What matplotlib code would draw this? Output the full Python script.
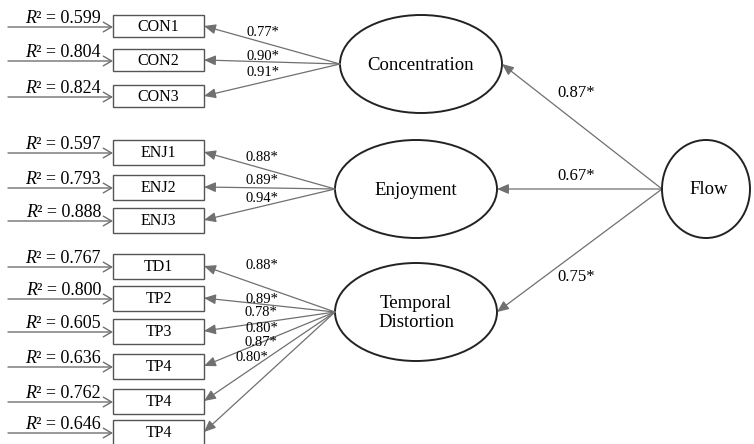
import matplotlib.pyplot as plt
from matplotlib.patches import Ellipse, Rectangle, FancyArrowPatch

plt.rcParams['font.family'] = ['Liberation Serif', 'DejaVu Serif']

# model values
constructs = ['Concentration', 'Enjoyment', 'Temporal\nDistortion']
path_coefs = [0.87, 0.67, 0.75]
indicators = [['CON1', 'CON2', 'CON3'],
              ['ENJ1', 'ENJ2', 'ENJ3'],
              ['TD1', 'TP2', 'TP3', 'TP4', 'TP4', 'TP4']]
loadings = [[0.77, 0.90, 0.91],
            [0.88, 0.89, 0.94],
            [0.88, 0.89, 0.78, 0.80, 0.87, 0.80]]
r_squared = [[0.599, 0.804, 0.824],
             [0.597, 0.793, 0.888],
             [0.767, 0.800, 0.605, 0.636, 0.762, 0.646]]

# layout (pixels, y down)
box_y = [[26, 60, 96], [152, 187, 220], [266, 298, 331, 366, 401, 432]]
box_h = [22, 25, 25]
box_x0, box_x1 = 113, 204
ell_c = [(421, 64), (416, 189), (416, 312)]
ell_w, ell_h = 162, 98
flow_c = (706, 189)
flow_w, flow_h = 88, 98
load_lbl = [[(263, 33), (263, 57), (263, 73)],
            [(262, 157), (262, 180), (262, 198)],
            [(262, 265), (262, 299), (261, 312), (262, 328), (261, 342), (252, 357)]]
path_lbl = [(576, 93), (576, 176), (576, 277)]

line_col = '#707070'

fig = plt.figure(figsize=(7.54, 4.44), dpi=100)
ax = fig.add_axes([0, 0, 1, 1])
ax.set_xlim(0, 754)
ax.set_ylim(444, 0)
ax.axis('off')


def arrow(p0, p1, style, lw=1.0):
    ax.add_patch(FancyArrowPatch(p0, p1, arrowstyle=style, mutation_scale=10,
                                 shrinkA=0, shrinkB=0, color=line_col, lw=lw))


for g in range(3):
    cx, cy = ell_c[g]
    ax.add_patch(Ellipse((cx, cy), ell_w, ell_h, fill=False, ec='#222222', lw=1.4))
    ax.text(cx, cy + 1, constructs[g], ha='center', va='center', fontsize=13.5,
            linespacing=1.1)
    fan = (cx - ell_w / 2, cy)
    for i, name in enumerate(indicators[g]):
        y = box_y[g][i]
        h = box_h[g]
        ax.add_patch(Rectangle((box_x0, y - h / 2), box_x1 - box_x0, h,
                               fill=False, ec='#555555', lw=1.0))
        ax.text((box_x0 + box_x1) / 2, y + 1, name, ha='center', va='center',
                fontsize=11.5)
        # loading arrow
        arrow(fan, (box_x1, y), '-|>,head_length=0.7,head_width=0.3', lw=0.9)
        lx, ly = load_lbl[g][i]
        ax.text(lx, ly, f'{loadings[g][i]:.2f}*', ha='center', va='center',
                fontsize=10.5)
        # R squared arrow
        arrow((8, y + 1), (box_x0, y + 1), '->,head_length=0.6,head_width=0.35',
              lw=1.0)
        t = ax.text(101, y - 3, f'\u00b2 = {r_squared[g][i]:.3f}', ha='right',
                    va='baseline', fontsize=13)
        ax.annotate('R', xy=(0, 0), xycoords=t, ha='right', va='bottom',
                    fontsize=13, style='italic')
    # structural path
    arrow((flow_c[0] - flow_w / 2, flow_c[1]), (cx + ell_w / 2, cy),
          '-|>,head_length=0.7,head_width=0.3', lw=0.9)
    px, py = path_lbl[g]
    ax.text(px, py, f'{path_coefs[g]:.2f}*', ha='center', va='center', fontsize=12)

ax.add_patch(Ellipse(flow_c, flow_w, flow_h, fill=False, ec='#222222', lw=1.4))
ax.text(flow_c[0] + 3, flow_c[1], 'Flow', ha='center', va='center', fontsize=13.5)

fig.savefig('out.png', dpi=100)
